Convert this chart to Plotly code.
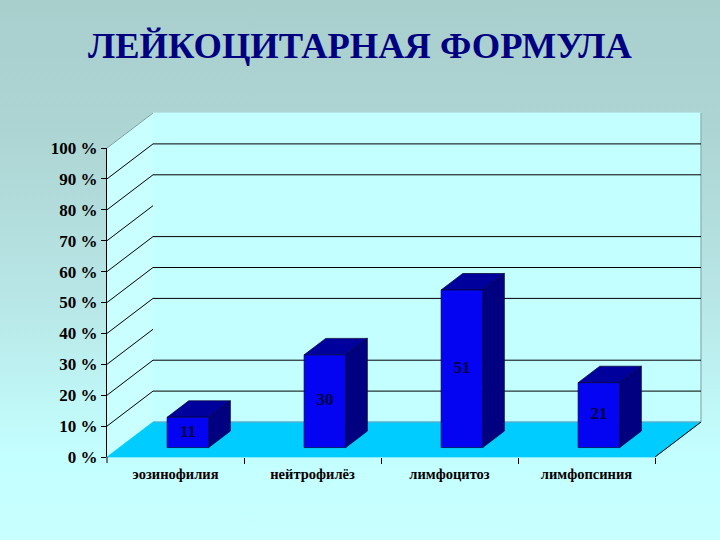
import plotly.graph_objects as go
import urllib.parse

title_text = "ЛЕЙКОЦИТАРНАЯ ФОРМУЛА"
categories = ["эозинофилия", "нейтрофилёз", "лимфоцитоз", "лимфопсиния"]
bar_heights = [9.8, 30, 51, 21]
data_labels = ["11", "30", "51", "21"]
axis_ticks = [0, 10, 20, 30, 40, 50, 60, 70, 80, 90, 100]
side_grid = [10, 20, 30, 40, 50, 60, 70, 80, 90]
back_grid = [10, 20, 40, 50, 60, 80, 90]

W, H = 720, 540
X0, X1 = 107, 655
Y0, Y100 = 457, 148
UX = (X1 - X0) / len(categories)
UY = (Y0 - Y100) / 100
DX = 46 / UX      # full depth in x-axis units
DY = 35 / UY      # full depth in y-axis units
XL, XR = -0.5, len(categories) - 0.5
BAR_W = 0.152
D_FRONT, D_BACK = 0.27, 0.74


def px(x, y, d=0):
    return x + d * DX, y + d * DY


def poly(points, fill, line=None, width=0.7):
    xs, ys = zip(*points)
    return go.Scatter(
        x=list(xs) + [xs[0]], y=list(ys) + [ys[0]], mode="lines", fill="toself",
        fillcolor=fill, line=dict(color=line or fill, width=width),
        hoverinfo="skip", showlegend=False,
    )


def segs(pairs, color, width=1):
    xs, ys = [], []
    for a, b in pairs:
        xs += [a[0], b[0], None]
        ys += [a[1], b[1], None]
    return go.Scatter(x=xs, y=ys, mode="lines", line=dict(color=color, width=width),
                      hoverinfo="skip", showlegend=False)


fig = go.Figure()
WALL = "#C4FFFF"
FLOOR = "#00CCFF"
GREY = "#7F9AA0"

# walls
fig.add_trace(poly([px(XL, 0), px(XL, 100), px(XL, 100, 1), px(XL, 0, 1)], "#C9FFFF"))
fig.add_trace(poly([px(XL, 0, 1), px(XL, 100, 1), px(XR, 100, 1), px(XR, 0, 1)], WALL))
fig.add_trace(segs([(px(XL, 100), px(XL, 100, 1)),
                    (px(XR, 100, 1), px(XR, 0, 1))], GREY))
# gridlines
fig.add_trace(segs([(px(XL, v), px(XL, v, 1)) for v in side_grid]
                   + [(px(XL, v, 1), px(XR, v, 1)) for v in back_grid], "#000000"))
# floor
fig.add_trace(poly([px(XL, 0), px(XR, 0), px(XR, 0, 1), px(XL, 0, 1)], FLOOR))
fig.add_trace(segs([(px(XL, 0, 1), px(XR, 0, 1))], "#6FA3B8"))
fig.add_trace(segs([(px(XR, 0), px(XR, 0, 1)), (px(XL, 0), px(XL, -6 / UY))], "#000000"))

# bars
for i, v in enumerate(bar_heights):
    a, b = i - BAR_W, i + BAR_W
    fig.add_trace(poly([px(b, 0, D_FRONT), px(b, v, D_FRONT), px(b, v, D_BACK), px(b, 0, D_BACK)],
                       "#000080", "#000033"))
    fig.add_trace(poly([px(a, v, D_FRONT), px(b, v, D_FRONT), px(b, v, D_BACK), px(a, v, D_BACK)],
                       "#00009C", "#000033"))
    fig.add_trace(poly([px(a, 0, D_FRONT), px(b, 0, D_FRONT), px(b, v, D_FRONT), px(a, v, D_FRONT)],
                       "#0404F2", "#000033"))

label_pts = [px(i, v / 2, D_FRONT) for i, v in enumerate(bar_heights)]
fig.add_trace(go.Scatter(
    x=[p[0] for p in label_pts], y=[p[1] for p in label_pts], text=data_labels,
    mode="text", textposition="middle center",
    textfont=dict(family="Liberation Serif", size=17, color="#000040", weight="bold"),
    hoverinfo="skip", showlegend=False,
))

# dummy traces keep the tick axes alive
fig.add_trace(go.Scatter(x=[XL], y=[0], xaxis="x2", yaxis="y2", mode="markers",
                         marker=dict(opacity=0), hoverinfo="skip", showlegend=False))
fig.add_trace(go.Scatter(x=[XL], y=[0], xaxis="x3", yaxis="y2", mode="markers",
                         marker=dict(opacity=0), hoverinfo="skip", showlegend=False))

svg = (
    '<svg xmlns="http://www.w3.org/2000/svg" width="720" height="540">'
    '<defs><linearGradient id="g" x1="0" y1="0" x2="0" y2="1">'
    '<stop offset="0" stop-color="#A9CFCD"/><stop offset="0.25" stop-color="#ADD5D4"/>'
    '<stop offset="0.55" stop-color="#B8E6E6"/>'
    '<stop offset="0.85" stop-color="#C4FFFF"/><stop offset="1" stop-color="#C8FFFF"/>'
    '</linearGradient></defs>'
    '<rect width="720" height="540" fill="url(#g)"/></svg>'
)

x_start = XL - X0 / UX
y_start = -(H - Y0) / UY
axis_font = dict(family="Liberation Serif", size=17, color="#000000", weight="bold")
hidden = dict(visible=False, showgrid=False, zeroline=False)
dom_x = [X0 / W, X1 / W]
fig.update_layout(
    width=W, height=H, margin=dict(l=0, r=0, t=0, b=0, autoexpand=False),
    paper_bgcolor="#C4FFFF", plot_bgcolor="rgba(0,0,0,0)", showlegend=False,
    images=[dict(source="data:image/svg+xml," + urllib.parse.quote(svg), xref="paper", yref="paper",
                 x=0, y=1, sizex=1, sizey=1, sizing="stretch", layer="below",
                 xanchor="left", yanchor="top")],
    xaxis=dict(domain=[0, 1], range=[x_start, x_start + W / UX], **hidden),
    yaxis=dict(domain=[0, 1], range=[y_start, y_start + H / UY], **hidden),
    xaxis2=dict(domain=dom_x, range=[XL, XR], anchor="y2", showgrid=False,
                zeroline=False, showline=False, tickmode="array",
                tickvals=list(range(len(categories))), ticktext=categories, ticks="outside",
                ticklen=4, tickcolor="rgba(0,0,0,0)",
                tickfont=dict(family="Liberation Serif", size=14.5, color="#000000", weight="bold")),
    xaxis3=dict(domain=dom_x, range=[XL, XR], overlaying="x2", anchor="y2", showgrid=False,
                zeroline=False, showline=False, tickmode="array",
                tickvals=[i + 0.5 for i in range(len(categories))], ticktext=[""] * len(categories),
                ticks="outside", ticklen=6, tickcolor="#000000", tickwidth=1),
    yaxis2=dict(domain=[1 - Y0 / H, 1 - Y100 / H], range=[0, 100], anchor="x2",
                showgrid=False, zeroline=False, showline=True, linecolor="#000000", linewidth=1,
                tickmode="array", tickvals=axis_ticks, ticktext=[f"{t} %" for t in axis_ticks],
                ticks="outside", ticklen=5, tickcolor="#000000", tickwidth=1, tickfont=axis_font),
    annotations=[dict(text=title_text, xref="paper", yref="paper", x=360 / W, y=1 - 46 / H,
                      xanchor="center", yanchor="middle", showarrow=False,
                      font=dict(family="Liberation Serif", size=36.5, color="#000080", weight="bold"))],
)
fig.write_html("out.html", config={"displayModeBar": False},
               post_script="document.body.style.margin='0';")
